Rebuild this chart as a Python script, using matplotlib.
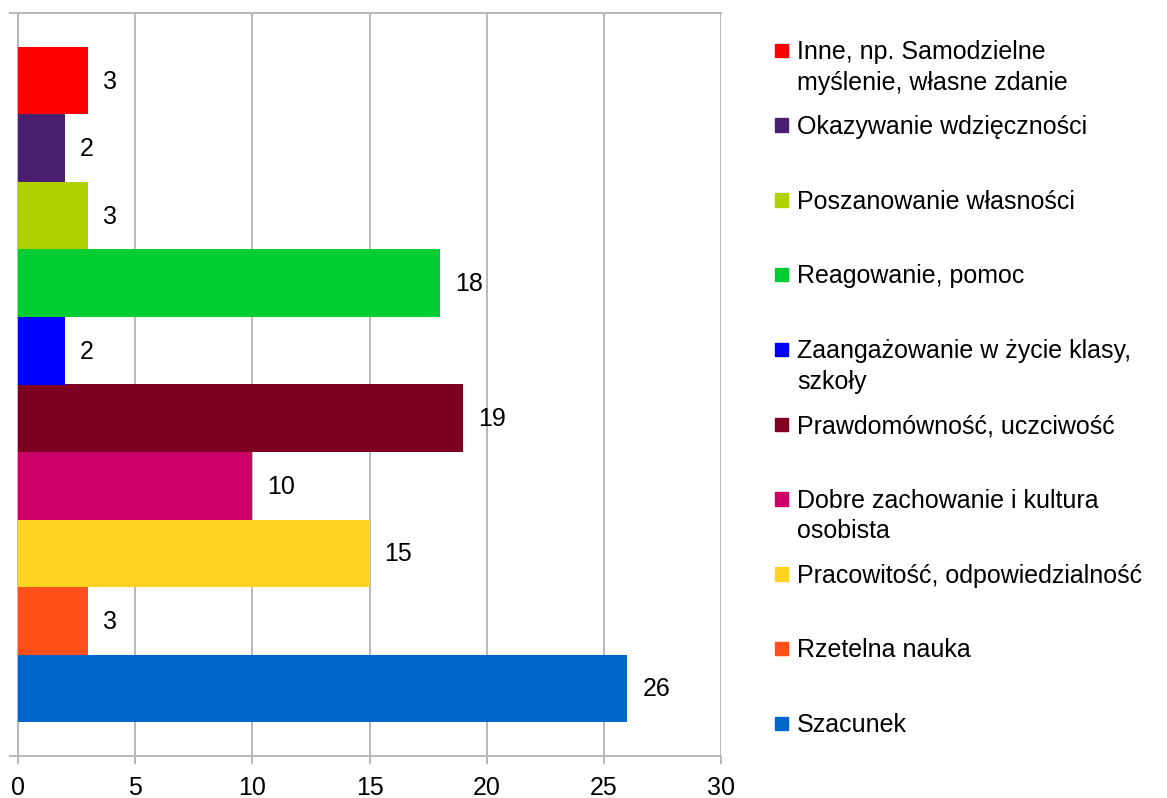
import matplotlib
matplotlib.use("Agg")
import matplotlib.pyplot as plt
from matplotlib.patches import Rectangle

plt.rcParams['font.family'] = ['Liberation Sans', 'DejaVu Sans']

# Data (bottom to top)
categories = [
    "Szacunek",
    "Rzetelna nauka",
    "Pracowitość, odpowiedzialność",
    "Dobre zachowanie i kultura\nosobista",
    "Prawdomówność, uczciwość",
    "Zaangażowanie w życie klasy,\nszkoły",
    "Reagowanie, pomoc",
    "Poszanowanie własności",
    "Okazywanie wdzięczności",
    "Inne, np. Samodzielne\nmyślenie, własne zdanie",
]
values = [26, 3, 15, 10, 19, 2, 18, 3, 2, 3]
colors = ["#0066CC", "#FF4F1A", "#FFD320", "#CC0066", "#7E0021",
          "#0000FF", "#00CC33", "#B0D000", "#4B1F6F", "#FF0000"]
xticks = [0, 5, 10, 15, 20, 25, 30]

FS = 18
W, H = 1167, 798
fig = plt.figure(figsize=(W / 100, H / 100), dpi=100)
ax = fig.add_axes([18 / W, 1 - 756 / H, (721 - 18) / W, (756 - 13) / H])

pos = list(range(len(values)))
ax.barh(pos, values, height=1.0, color=colors, zorder=3)
ax.set_ylim(-1, len(values))
ax.set_xlim(0, 30)

for p, v in zip(pos, values):
    ax.annotate(str(v), (v, p), xytext=(15, -1), textcoords='offset pixels',
                ha='left', va='center', fontsize=FS, color='black', zorder=4)

grid_c = "#B3B3B3"
ax.set_xticks(xticks)
ax.set_xticklabels([str(t) for t in xticks], fontsize=FS)
ax.xaxis.grid(True, color=grid_c, linewidth=1.3, zorder=0)
ax.tick_params(axis='x', length=5.4, width=1.3, color=grid_c, pad=9)
ax.set_yticks([-1, len(values)])
ax.set_yticklabels([])
ax.tick_params(axis='y', length=6.5, width=1.3, color=grid_c)
for s in ax.spines.values():
    s.set_color(grid_c)
    s.set_linewidth(1.3)
ax.spines['right'].set_visible(False)

# Legend (top to bottom)
for i, (lab, col) in enumerate(zip(categories[::-1], colors[::-1])):
    yc = 50.5 + 74.8 * i
    fig.patches.append(Rectangle((775 / W, 1 - (yc + 6.5) / H), 13.5 / W, 13.5 / H,
                                 transform=fig.transFigure, color=col))
    for j, line in enumerate(lab.split("\n")):
        yb = yc + 8.5 + 30.7 * j
        fig.text(797 / W, 1 - yb / H, line, ha='left', va='baseline',
                 fontsize=FS)

fig.savefig("out.png", dpi=100)
